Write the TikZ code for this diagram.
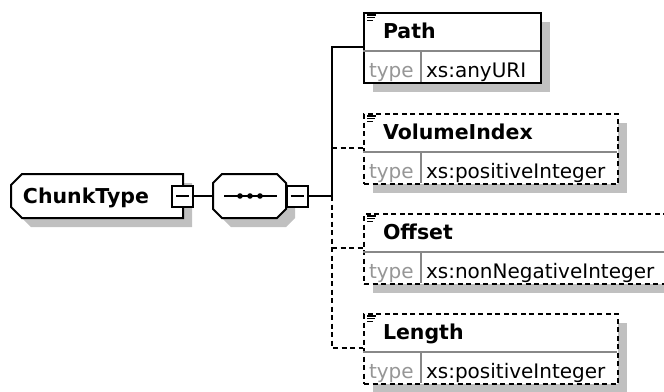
\documentclass[tikz,border=0pt]{standalone}
\usepackage{fontspec}
\setmainfont{DejaVu Sans}
\usetikzlibrary{positioning,shadows}
\definecolor{shadowgray}{RGB}{192,192,192}
\definecolor{rulegray}{RGB}{136,136,136}
\definecolor{keygray}{RGB}{150,150,150}
\tikzset{
  casted/.style={drop shadow={shadow xshift=9pt,shadow yshift=-9pt,fill=shadowgray,opacity=1}},
  optional/.style={dash pattern=on 5pt off 3.5pt},
  elbox/.style={draw,fill=white,rectangle,inner sep=0pt,minimum height=70pt,casted},
  anchorbox/.style={rectangle,inner sep=0pt,outer sep=0pt},
  minusbox/.style={draw,fill=white,rectangle,inner sep=0pt,minimum size=21pt,
    path picture={\draw ([xshift=4pt]path picture bounding box.west) -- ([xshift=-4pt]path picture bounding box.east);}},
  eltitle/.style={inner sep=0pt,font=\fontsize{20.5}{24}\selectfont\bfseries},
  typekey/.style={inner sep=0pt,text=keygray,font=\fontsize{20}{24}\selectfont},
  typeval/.style={inner sep=0pt,font=\fontsize{20}{24}\selectfont},
  divider/.style={rulegray,line width=1.2pt,solid}
}
\begin{document}
\begin{tikzpicture}[x=1pt,y=-1pt,line width=2pt]
  \useasboundingbox (0,0) rectangle (664,391);
  \clip (0,0) rectangle (664,391);

  % complex type and its sequence
  \node[anchorbox,minimum width=172pt,minimum height=44pt,anchor=north west] (chunk) at (11,174) {};
  \draw[fill=white,casted] ([xshift=11pt]chunk.north west) -- (chunk.north east) -- (chunk.south east)
    -- ([xshift=11pt]chunk.south west) -- ([yshift=11pt]chunk.south west) -- ([yshift=-11pt]chunk.north west) -- cycle;
  \node[eltitle,anchor=base west] (chunk-name) at (22,203) {ChunkType};
  \node[minusbox] (chunkm) at (182.5,196) {};
  \node[anchorbox,minimum width=73pt,minimum height=44pt] (seq) at (249.5,196) {};
  \draw[fill=white,casted] ([xshift=9pt]seq.north west) -- ([xshift=-9pt]seq.north east) -- ([yshift=-9pt]seq.north east)
    -- ([yshift=9pt]seq.south east) -- ([xshift=-9pt]seq.south east) -- ([xshift=9pt]seq.south west)
    -- ([yshift=9pt]seq.south west) -- ([yshift=-9pt]seq.north west) -- cycle;
  \node[minusbox] (seqm) at (297,196) {};
  \draw (224,196) -- (277,196);
  \foreach \x in {240,250,260} \fill (\x,196) circle (2.8);
  \draw (chunkm) -- (seq);

  % child elements
  \foreach \nm/\lbl/\top/\w/\typ/\st in {path/Path/12/177/xs:anyURI/solid,
      vidx/VolumeIndex/113/254/xs:positiveInteger/optional,
      off/Offset/213/304/xs:nonNegativeInteger/optional,
      len/Length/313/254/xs:positiveInteger/optional}{
    \node[elbox,\st,minimum width=\w,anchor=north west] (\nm) at (363,\top) {};
    \draw[divider] (363,\top+39) -- ++(\w,0);
    \draw[divider] (421,\top+39) -- (421,\top+70);
    \draw[line width=1.3pt] (367,\top+3) -- ++(9,0) (367,\top+5.8) -- ++(7.5,0) (367,\top+8.6) -- ++(6,0);
    \node[eltitle,anchor=base west] (\nm-name) at (382,\top+26) {\lbl};
    \node[typekey,anchor=base west] (\nm-key) at (368,\top+65) {type};
    \node[typeval,anchor=base west] (\nm-type) at (425,\top+65) {\typ};
    \coordinate (\nm-in) at (363,\top+35);
  }

  % connectors
  \coordinate (trunk) at (332,196);
  \draw (seqm) -- (trunk) |- (path-in);
  \draw[optional] (trunk) |- (len-in);
  \foreach \nm in {vidx,off} \draw[optional] (trunk |- \nm-in) -- (\nm-in);
\end{tikzpicture}
\end{document}
